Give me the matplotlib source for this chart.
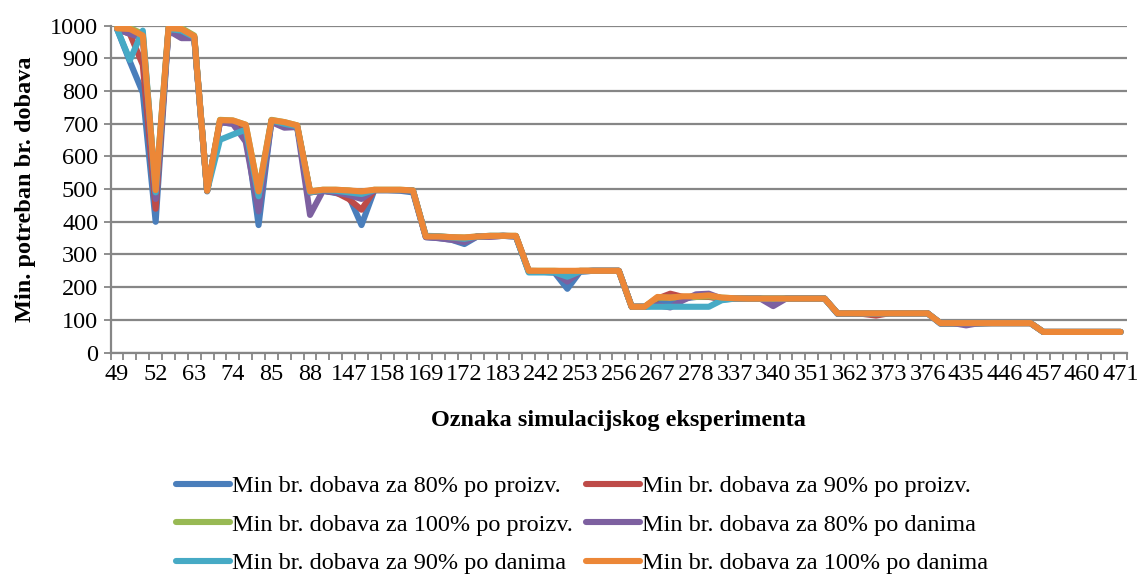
import numpy as np
import matplotlib.pyplot as plt

plt.rcParams['font.family'] = ['Liberation Serif', 'DejaVu Serif']

# oznake eksperimenata (svaka treca kategorija ima natpis)
tick_labels = ['49', '52', '63', '74', '85', '88', '147', '158', '169', '172',
               '183', '242', '253', '256', '267', '278', '337', '340', '351',
               '362', '373', '376', '435', '446', '457', '460', '471']

names = ['Min br. dobava za 80% po proizv.', 'Min br. dobava za 90% po proizv.',
         'Min br. dobava za 100% po proizv.', 'Min br. dobava za 80% po danima',
         'Min br. dobava za 90% po danima', 'Min br. dobava za 100% po danima']

proizv_80 = [990, 890, 795, 400, 990, 975, 965, 493,
             705, 700, 680, 390, 710, 700, 690, 490,
             495, 488, 480, 390, 497, 497, 495, 490,
             353, 350, 345, 332, 355, 355, 357, 355,
             248, 247, 245, 195, 248, 250, 250, 250,
             140, 140, 155, 150, 165, 170, 172, 162,
             165, 165, 165, 160, 165, 165, 165, 165,
             118, 118, 118, 118, 120, 120, 120, 120,
             88, 88, 88, 88, 90, 90, 90, 90,
             63, 63, 63, 63, 63, 63, 63]

proizv_90 = [990, 975, 880, 440, 992, 985, 965, 495,
             708, 705, 690, 460, 710, 700, 690, 490,
             495, 490, 470, 437, 497, 497, 497, 495,
             355, 353, 350, 345, 355, 355, 357, 356,
             250, 249, 248, 240, 250, 250, 250, 250,
             140, 140, 165, 180, 170, 170, 170, 165,
             165, 165, 165, 165, 165, 165, 165, 165,
             120, 120, 118, 113, 120, 120, 120, 120,
             90, 90, 90, 90, 90, 90, 90, 90,
             63, 63, 63, 63, 63, 63, 63]

proizv_100 = [995, 993, 975, 495, 995, 993, 970, 495,
              712, 710, 697, 495, 712, 705, 695, 493,
              498, 498, 496, 490, 498, 498, 498, 496,
              355, 355, 353, 352, 355, 357, 357, 357,
              250, 250, 250, 248, 250, 250, 250, 250,
              140, 140, 168, 168, 170, 170, 172, 168,
              166, 165, 165, 165, 165, 165, 165, 165,
              120, 120, 120, 120, 120, 120, 120, 120,
              90, 90, 90, 90, 90, 90, 90, 90,
              63, 63, 63, 63, 63, 63, 63]

danima_80 = [990, 975, 962, 470, 985, 962, 962, 495,
             705, 700, 645, 432, 705, 688, 690, 421,
             495, 490, 482, 470, 497, 497, 497, 495,
             353, 350, 345, 338, 355, 355, 357, 355,
             248, 247, 245, 217, 248, 250, 250, 250,
             140, 140, 145, 138, 160, 178, 180, 165,
             165, 165, 165, 142, 165, 165, 165, 165,
             120, 120, 120, 120, 120, 120, 120, 120,
             90, 90, 83, 90, 90, 90, 90, 90,
             63, 63, 63, 63, 63, 63, 63]

danima_90 = [990, 895, 985, 490, 990, 985, 965, 495,
             651, 667, 682, 478, 710, 700, 692, 490,
             497, 495, 490, 485, 497, 497, 497, 496,
             357, 356, 352, 348, 355, 357, 357, 356,
             245, 245, 245, 232, 248, 250, 250, 250,
             140, 140, 140, 140, 140, 140, 140, 160,
             165, 165, 165, 165, 165, 165, 165, 165,
             120, 120, 120, 120, 120, 120, 120, 120,
             90, 90, 90, 90, 90, 90, 90, 90,
             63, 63, 63, 63, 63, 63, 63]

danima_100 = [992, 990, 970, 497, 993, 990, 968, 495,
              711, 710, 697, 493, 711, 705, 695, 493,
              498, 498, 496, 493, 498, 498, 498, 496,
              355, 355, 353, 352, 355, 357, 357, 357,
              250, 250, 250, 250, 250, 250, 250, 250,
              140, 140, 170, 168, 172, 172, 175, 168,
              166, 165, 165, 165, 165, 165, 165, 165,
              120, 120, 120, 120, 120, 120, 120, 120,
              90, 90, 90, 90, 90, 90, 90, 90,
              63, 63, 63, 63, 63, 63, 63]

series = [proizv_80, proizv_90, proizv_100, danima_80, danima_90, danima_100]
colors = ['#4A7EBB', '#BE4B48', '#98B954', '#7D60A0', '#46AAC5', '#EC8737']

x = np.arange(len(danima_100))
grid_col = '#868686'
fs = 17.5

fig = plt.figure(figsize=(11.37, 5.78), dpi=100)
ax = fig.add_axes([0.0973, 0.3901, 0.8939, 0.5654])

lines = []
for vals, name, c in zip(series, names, colors):
    ln, = ax.plot(x, vals, color=c, lw=4.4, solid_joinstyle='round',
                  solid_capstyle='round', label=name)
    lines.append(ln)

ax.set_xlim(-0.5, len(x) - 0.5)
ax.set_ylim(0, 1000)
ax.set_yticks(np.arange(0, 1001, 100))
ax.yaxis.grid(True, color=grid_col, lw=1.6)
ax.set_axisbelow(True)

ax.set_xticks(x[::3])
ax.set_xticklabels(tick_labels)
ax.set_xticks(np.arange(-0.5, len(x)), minor=True)
ax.tick_params(axis='x', which='major', length=0, pad=8, labelsize=fs)
ax.tick_params(axis='x', which='minor', length=5, width=1.3, color=grid_col)
ax.tick_params(axis='y', length=5, width=1.3, color=grid_col, labelsize=fs, pad=4)

for side in ['top', 'right']:
    ax.spines[side].set_visible(False)
for side in ['left', 'bottom']:
    ax.spines[side].set_color(grid_col)
    ax.spines[side].set_linewidth(1.6)

ax.set_xlabel('Oznaka simulacijskog eksperimenta', fontsize=fs, fontweight='bold', labelpad=18)
ax.set_ylabel('Min. potreban br. dobava', fontsize=fs, fontweight='bold', labelpad=10)

# legenda u dva stupca, redoslijed po recima
order = [0, 2, 4, 1, 3, 5]
fig.legend([lines[i] for i in order], [names[i] for i in order], ncol=2,
           loc='center', bbox_to_anchor=(0.512, 0.092), frameon=False,
           fontsize=fs, handlelength=2.2, handletextpad=0.1,
           columnspacing=0.55, labelspacing=0.68)

fig.savefig('out.png', dpi=100)
